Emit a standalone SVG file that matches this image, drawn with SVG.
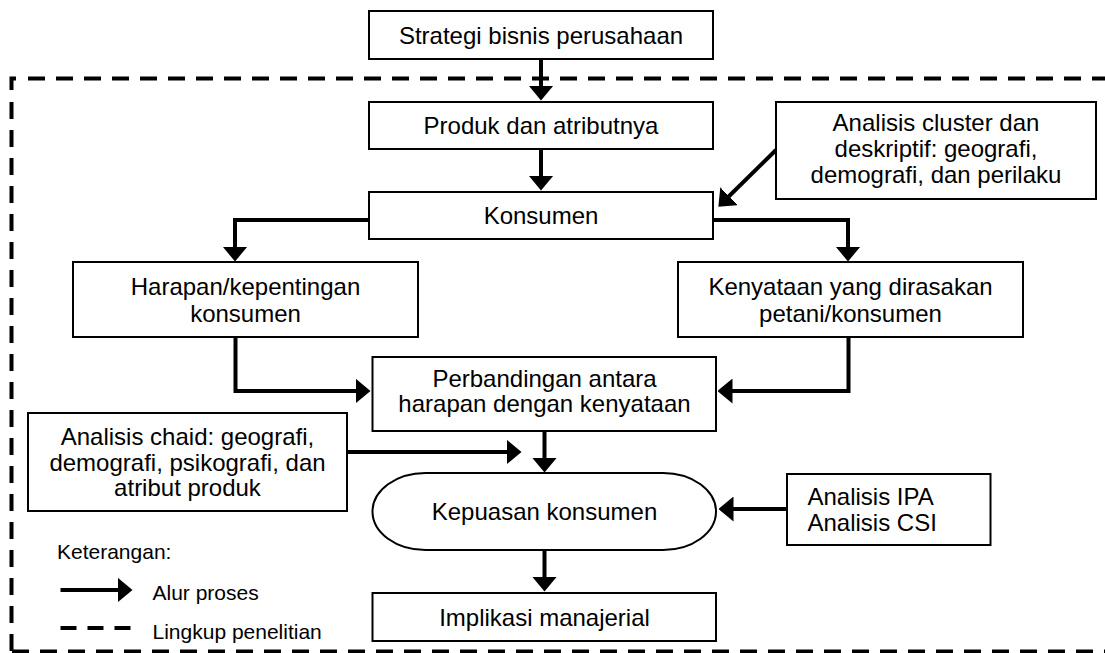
<svg xmlns="http://www.w3.org/2000/svg" width="1105" height="653" viewBox="0 0 1105 653">
<style>
.box{fill:#fff;stroke:#000;stroke-width:2}
.t{font-family:"Liberation Sans",Arial,sans-serif;font-size:24px;fill:#000;text-anchor:middle}
.tl{font-family:"Liberation Sans",Arial,sans-serif;font-size:24px;fill:#000}
.lg{font-family:"Liberation Sans",Arial,sans-serif;font-size:21px;fill:#000}
.c{fill:none;stroke:#000;stroke-width:4;marker-end:url(#ah)}
.dash{fill:none;stroke:#000;stroke-width:4;stroke-dasharray:17 11}
</style>
<defs>
<marker id="ah" markerUnits="userSpaceOnUse" viewBox="0 0 15 25" markerWidth="15" markerHeight="25" refX="0.5" refY="12.5" orient="auto">
<path d="M0,0 L15,12.5 L0,25 z" fill="#000"/>
</marker>
</defs>
<g id="scope">
<line class="dash" x1="28" y1="78.5" x2="1110" y2="78.5"/>
<line class="dash" x1="11.5" y1="102" x2="11.5" y2="653"/>
<path d="M11.5,90 V78.5 H16" fill="none" stroke="#000" stroke-width="4"/>
<line class="dash" x1="12" y1="651.5" x2="1110" y2="651.5"/>
</g>
<g id="connectors">
<path class="c" d="M541,59 V86"/>
<path class="c" d="M541,149 V176"/>
<path class="c" d="M369,220 H235 V247"/>
<path class="c" d="M713,220 H848 V247"/>
<path class="c" d="M776,150 L728.7,196.5"/>
<path class="c" d="M235.5,337 V391 H356"/>
<path class="c" d="M848.5,337 V391 H732"/>
<path class="c" d="M544.5,431 V458"/>
<path class="c" d="M347,452 H507"/>
<path class="c" d="M787,509 H733"/>
<path class="c" d="M544.5,550 V577"/>
</g>
<g id="n-strategi">
<rect class="box" x="369" y="11" width="344" height="48"/>
<text class="t" x="541" y="44">Strategi bisnis perusahaan</text>
</g>
<g id="n-produk">
<rect class="box" x="369" y="102" width="344" height="47"/>
<text class="t" x="541" y="134">Produk dan atributnya</text>
</g>
<g id="n-cluster">
<rect class="box" x="776" y="102" width="320" height="97"/>
<text class="t" x="936" y="131">Analisis cluster dan</text>
<text class="t" x="936" y="157">deskriptif: geografi,</text>
<text class="t" x="936" y="183">demografi, dan perilaku</text>
</g>
<g id="n-konsumen">
<rect class="box" x="369" y="192" width="344" height="47"/>
<text class="t" x="541" y="224">Konsumen</text>
</g>
<g id="n-harapan">
<rect class="box" x="73" y="262" width="345" height="75"/>
<text class="t" x="245.5" y="295">Harapan/kepentingan</text>
<text class="t" x="245.5" y="322">konsumen</text>
</g>
<g id="n-kenyataan">
<rect class="box" x="678" y="262" width="345" height="75"/>
<text class="t" x="850.5" y="295">Kenyataan yang dirasakan</text>
<text class="t" x="850.5" y="322">petani/konsumen</text>
</g>
<g id="n-perbandingan">
<rect class="box" x="372.5" y="357" width="343.5" height="74"/>
<text class="t" x="544.5" y="387">Perbandingan antara</text>
<text class="t" x="544.5" y="412">harapan dengan kenyataan</text>
</g>
<g id="n-chaid">
<rect class="box" x="28" y="413" width="319" height="98"/>
<text class="t" x="187.5" y="445">Analisis chaid: geografi,</text>
<text class="t" x="187.5" y="471">demografi, psikografi, dan</text>
<text class="t" x="187.5" y="496">atribut produk</text>
</g>
<g id="n-kepuasan">
<rect class="box" x="372.5" y="473" width="343.5" height="77" rx="53" ry="38.5"/>
<text class="t" x="544.5" y="520">Kepuasan konsumen</text>
</g>
<g id="n-ipa">
<rect class="box" x="787" y="474" width="203.5" height="71"/>
<text class="tl" x="807.5" y="505">Analisis IPA</text>
<text class="tl" x="807.5" y="531">Analisis CSI</text>
</g>
<g id="n-implikasi">
<rect class="box" x="372.5" y="593" width="343.5" height="48"/>
<text class="t" x="544.5" y="625.5">Implikasi manajerial</text>
</g>
<g id="legend">
<text class="lg" x="57" y="559">Keterangan:</text>
<path class="c" d="M60.5,590 H118"/>
<text class="lg" x="152.5" y="600">Alur proses</text>
<line x1="60.5" y1="628" x2="133" y2="628" stroke="#000" stroke-width="4" stroke-dasharray="16 11"/>
<text class="lg" x="152.5" y="639">Lingkup penelitian</text>
</g>
</svg>
